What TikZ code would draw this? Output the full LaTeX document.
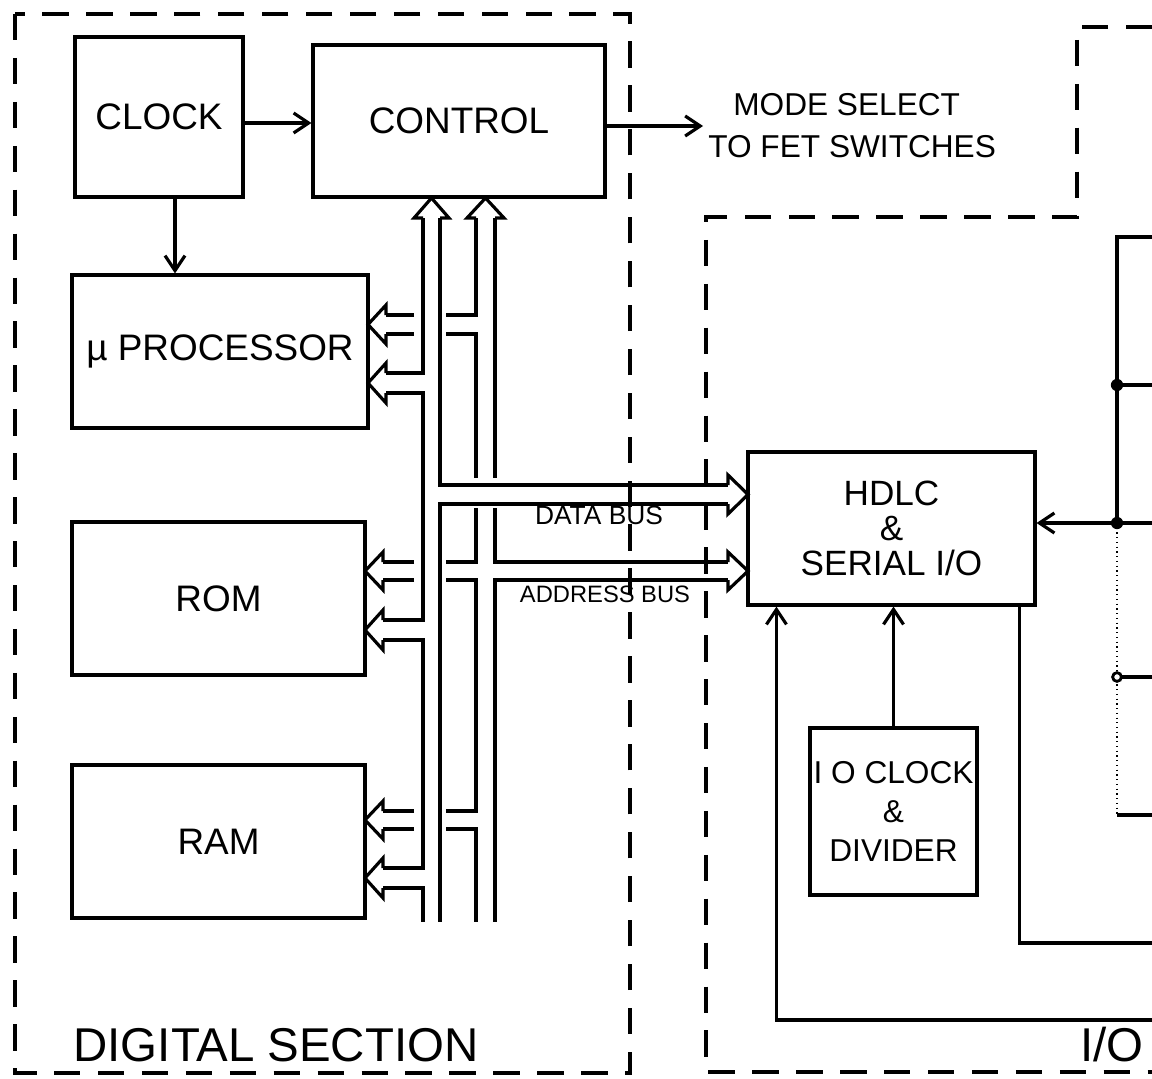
\documentclass[tikz,border=0pt]{standalone}
\usepackage{fontspec}
\setmainfont{Liberation Sans}
\usetikzlibrary{arrows.meta,calc}

% hollow heads of the double-line buses (tip, then the two lines)
\newcommand{\headup}[3]{%
  \draw[bus] (#2,{#1+20}) -- ({#2-9},{#1+20}) -- ({(#2+#3)/2},#1)
    -- ({#3+9},{#1+20}) -- (#3,{#1+20});}
\newcommand{\headleft}[3]{%
  \draw[bus] ({#1+18},#2) -- ({#1+18},{#2-10}) -- (#1,{(#2+#3)/2})
    -- ({#1+18},{#3+10}) -- ({#1+18},#3);}
\newcommand{\headright}[3]{%
  \draw[bus] ({#1-20},#2) -- ({#1-20},{#2-10}) -- (#1,{(#2+#3)/2})
    -- ({#1-20},{#3+10}) -- ({#1-20},#3);}

\begin{document}
\begin{tikzpicture}[x=0.02cm,y=-0.02cm,
  box/.style={draw,line width=1.8pt,inner sep=0pt,align=center,
    font=\fontsize{21}{25}\selectfont},
  arr/.style={line width=1.8pt,-{Straight Barb[length=3mm,width=4mm]}},
  bus/.style={line width=1.8pt,line join=miter},
  dashbox/.style={line width=1.8pt,dash pattern=on 15pt off 10pt},
  lbl/.style={inner sep=0pt}]
  \useasboundingbox (0,0) rectangle (1152,1078);
  % Digital section: clock, control and the three bus users.
  \node[box,minimum width=3.36cm,minimum height=3.2cm] (clock) at (159,117) {CLOCK};
  \node[box,minimum width=5.84cm,minimum height=3.04cm] (ctrl) at (459,121) {CONTROL};
  \node[box,minimum width=5.92cm,minimum height=3.06cm] (proc) at (220,351.5) {µ PROCESSOR};
  \node[box,minimum width=5.86cm,minimum height=3.06cm] (rom) at (218.5,598.5) {ROM};
  \node[box,minimum width=5.86cm,minimum height=3.06cm] (ram) at (218.5,841.5) {RAM};
  \draw[arr] ([yshift=-0.12cm]clock.east) -- ([yshift=-0.12cm]clock.east -| ctrl.west);
  \draw[arr] (clock.south -| 175,0) -- (proc.north -| 175,0);
  \node[lbl,anchor=west,align=left,font=\fontsize{18}{24}\selectfont] (mode) at (708,126)
    {\hspace*{0.5cm}MODE SELECT\\TO FET SWITCHES};
  \draw[arr] (ctrl.east |- mode.west) -- ([xshift=-0.1cm]mode.west);
  % I/O section.
  \node[box,minimum width=5.74cm,minimum height=3.06cm,
    font=\fontsize{20}{20}\selectfont] (hdlc) at (891.5,528.5) {HDLC\\\&\\SERIAL I/O};
  \node[box,minimum width=3.34cm,minimum height=3.34cm,
    font=\fontsize{18}{22}\selectfont] (div) at (893.5,811.5) {I O CLOCK\\\&\\DIVIDER};
  \draw[arr] (div.north) -- (div.north |- hdlc.south);
  \coordinate (loopin) at (1152,1020);
  \coordinate (loopout) at (1152,943);
  \draw[arr] (loopin) -| ([xshift=0.6cm]hdlc.south west);
  \draw[bus] ([xshift=-0.34cm]hdlc.south east) |- (loopout);
  % the box cut off at the right edge
  \coordinate (jA) at (1117,385);
  \coordinate (jB) at (1117,523);
  \coordinate (jC) at (1117,677);
  \draw[bus] (1152,237) -- (1117,237) -- (jB);
  \draw[line width=0.7pt,dotted] (jB) -- (1117,815);
  \draw[bus] (1117,815) -- (1152,815);
  \foreach \j in {jA,jB,jC} { \draw[bus] (\j) -- (\j -| 1152,0); }
  \fill (jA) circle[radius=3.5pt];
  \fill (jB) circle[radius=3.5pt];
  \draw[line width=1.6pt,fill=white] (jC) circle[radius=2.5pt];
  \draw[arr] (jB) -- (hdlc.east |- jB);
  % Buses: 1 at x=423/440 (data), 2 at x=476/495 (address).
  \headup{198}{423}{440}
  \headup{198}{476}{495}
  \draw[bus] (423,218) -- (423,373) -- (386,373);
  \draw[bus] (386,393) -- (423,393) -- (423,620) -- (383,620);
  \draw[bus] (383,640) -- (423,640) -- (423,868) -- (383,868);
  \draw[bus] (383,888) -- (423,888) -- (423,922);
  \draw[bus] (440,218) -- (440,485) -- (728,485);
  \draw[bus] (728,504) -- (440,504) -- (440,922);
  \draw[bus] (476,218) -- (476,315) -- (446,315);
  \draw[bus] (446,334) -- (476,334) -- (476,478);
  \draw[bus] (476,508) -- (476,562) -- (446,562);
  \draw[bus] (446,580) -- (476,580) -- (476,811) -- (446,811);
  \draw[bus] (446,829) -- (476,829) -- (476,922);
  \draw[bus] (495,218) -- (495,478);
  \draw[bus] (495,508) -- (495,562) -- (728,562);
  \draw[bus] (728,580) -- (495,580) -- (495,922);
  \foreach \y in {315,334} { \draw[bus] (414,\y) -- (386,\y); }
  \foreach \y in {562,580,811,829} { \draw[bus] (414,\y) -- (383,\y); }
  \headleft{368}{315}{334}
  \headleft{368}{373}{393}
  \headleft{365}{562}{580}
  \headleft{365}{620}{640}
  \headleft{365}{811}{829}
  \headleft{365}{868}{888}
  \headright{748}{485}{504}
  \headright{748}{562}{580}
  \node[lbl,font=\fontsize{15}{17}\selectfont] (databus) at (599,515) {DATA BUS};
  \node[lbl,font=\fontsize{13.5}{16}\selectfont] (addrbus) at (605,594) {ADDRESS BUS};
  % Section outlines.
  \draw[dashbox] (15,14) rectangle (630,1073);
  \draw[dashbox] (1152,27) -- (1077,27) -- (1077,217) -- (706,217) -- (706,1072) -- (1152,1072);
  \node[lbl,font=\fontsize{27}{30}\selectfont] (digital) at (276,1045) {DIGITAL SECTION};
  \node[lbl,font=\fontsize{27}{30}\selectfont] (io) at (1112,1045) {I/O};
\end{tikzpicture}
\end{document}
